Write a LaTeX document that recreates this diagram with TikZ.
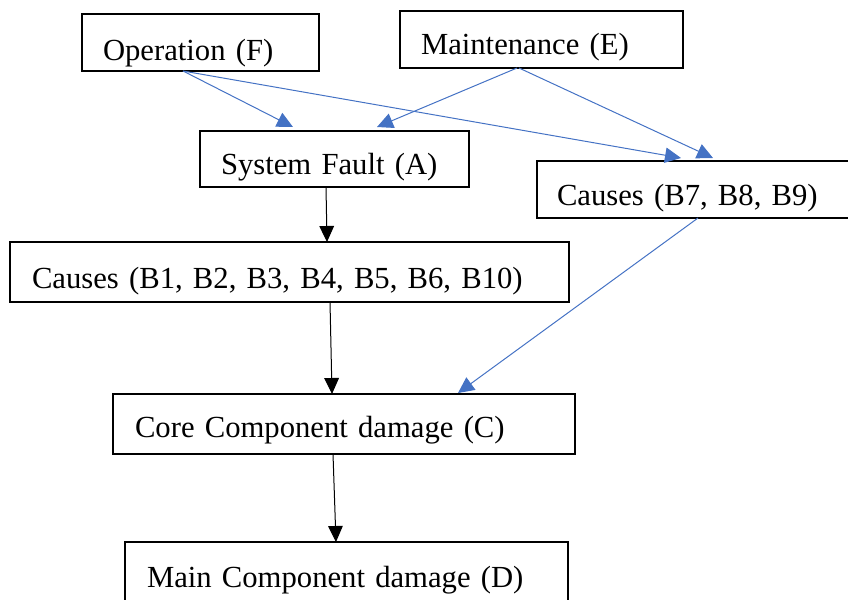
\documentclass[tikz,border=0pt]{standalone}
\usepackage{fontspec}
\setmainfont{Liberation Serif}
\usetikzlibrary{arrows.meta,calc}
\definecolor{linkblue}{HTML}{4472C4}
\tikzset{
  box/.style={draw, line width=1.5pt, inner ysep=0pt, outer sep=0pt,
    anchor=north west, align=left, font=\fontsize{23}{27}\selectfont},
  % #1 left padding, #2 box width, #3 top-to-baseline, #4 baseline-to-bottom (all in px)
  geom/.style n args={4}{inner xsep=#1*0.75pt, text width={(#2-2*#1)*0.75pt},
    text height=#3*0.75pt, text depth=#4*0.75pt},
  bluearrow/.style={draw=linkblue, line width=0.75pt,
    -{Triangle[length=12pt, width=11.5pt, fill=linkblue]}},
  blackarrow/.style={draw=black, line width=0.75pt,
    -{Triangle[length=12pt, width=11pt, fill=black]}}
}
\begin{document}
\begin{tikzpicture}[x=0.75pt, y=-0.75pt]
\useasboundingbox (0,0) rectangle (848,599);

\node[box, geom={21}{237}{47}{10}] (F)  at (82,14)   {Operation (F)};
\node[box, geom={21}{283}{44}{13}] (E)  at (400,11)  {Maintenance (E)};
\node[box, geom={21}{269}{43}{13}] (A)  at (200,131) {System Fault (A)};
\node[box, geom={20}{323}{44}{13}] (B7) at (537,161) {Causes (B7, B8, B9)};
\node[box, geom={22}{559}{46}{14}] (B1) at (10,242)  {Causes (B1, B2, B3, B4, B5, B6, B10)};
\node[box, geom={22}{462}{43}{17}] (C)  at (113,394) {Core Component damage (C)};
\node[box, geom={22}{443}{45}{30}] (D)  at (125,542) {Main Component damage (D)};

% influences of operation and maintenance
\draw[bluearrow] ($(F.south west)+(101,0)$) -- ($(A.north west)+(93,-4)$);
\draw[bluearrow] ($(E.south west)+(117,0)$) -- ($(A.north west)+(177,-4)$);
\draw[bluearrow] ($(F.south west)+(101,0)$) -- ($(B7.north west)+(144,-3)$);
\draw[bluearrow] ($(E.south west)+(119,0)$) -- ($(B7.north west)+(176,-3)$);
\draw[bluearrow] ($(B7.south west)+(161,0)$) -- ($(C.north west)+(345,-1)$);

% main causal chain
\draw[blackarrow] ($(A.south west)+(126,0)$) -- ($(B1.north west)+(317,0)$);
\draw[blackarrow] ($(B1.south west)+(320,0)$) -- ($(C.north west)+(219,0)$);
\draw[blackarrow] ($(C.south west)+(220,0)$) -- ($(D.north west)+(211,0)$);
\end{tikzpicture}
\end{document}
